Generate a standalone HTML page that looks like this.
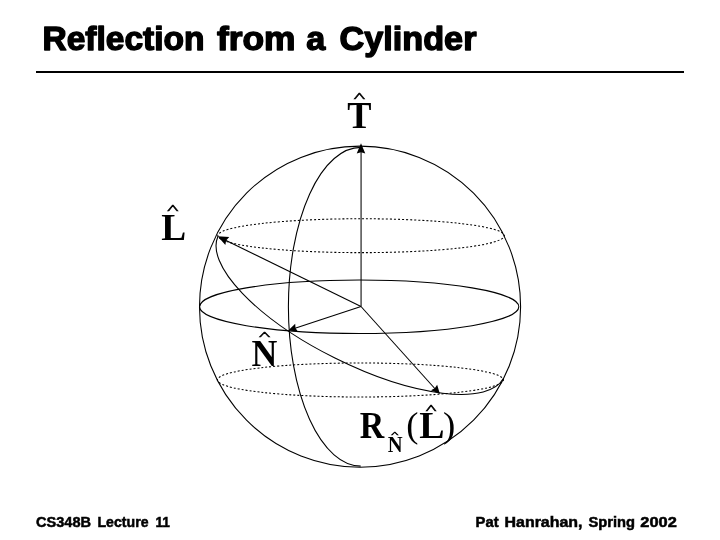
<!DOCTYPE html>
<html>
<head>
<meta charset="utf-8">
<title>Reflection from a Cylinder</title>
<style>
html,body{margin:0;padding:0;background:#fff;}
body{width:720px;height:540px;overflow:hidden;position:relative;}
svg{position:absolute;left:0;top:0;display:block;will-change:transform;}
.sans{font-family:"Liberation Sans",sans-serif;font-weight:bold;fill:#000;}
.ttl text{stroke:#000;stroke-width:1.4;stroke-linejoin:round;}
.ftr text{stroke:#000;stroke-width:0.5;}
.serifb{font-family:"Liberation Serif",serif;font-weight:bold;fill:#000;}
.serif{font-family:"Liberation Serif",serif;font-weight:normal;fill:#000;}
.hat{stroke:#000;stroke-width:0.7px;vector-effect:non-scaling-stroke;stroke-linejoin:miter;}
.ln{fill:none;stroke:#000;stroke-width:1.08;}
.dot{fill:none;stroke:#000;stroke-width:1.05;stroke-dasharray:1 1;stroke-dashoffset:0.5;}
</style>
</head>
<body>
<svg width="720" height="540" viewBox="0 0 720 540">
  <!-- title -->
  <g class="sans ttl" font-size="33">
  <text x="42.5" y="50" textLength="162" lengthAdjust="spacingAndGlyphs">Reflection</text>
  <text x="217" y="50" textLength="78.5" lengthAdjust="spacingAndGlyphs">from</text>
  <text x="306.3" y="50" textLength="19" lengthAdjust="spacingAndGlyphs">a</text>
  <text x="339.5" y="50" textLength="137" lengthAdjust="spacingAndGlyphs">Cylinder</text>
  </g>
  <rect x="36" y="71" width="648" height="2" fill="#000"/>

  <!-- sphere -->
  <circle class="ln" cx="360.05" cy="306.7" r="160.55"/>
  <ellipse class="ln" cx="359.2" cy="306.78" rx="159.6" ry="26.72"/>
  <ellipse class="dot" cx="361.1" cy="235.7" rx="143.3" ry="16.95" pathLength="292"/>
  <ellipse class="dot" cx="360.4" cy="379.98" rx="143" ry="17.02" pathLength="292"/>
  <!-- meridian -->
  <path class="ln" d="M360.9,147.4 A72.4 159.35 0 0 0 360.7,466.1"/>
  <!-- great circle through L, N, R -->
  <path class="ln" d="M218,236.2 A159.5 57.8 26.45 0 0 503.4,378.6"/>
  <!-- vectors -->
  <line class="ln" x1="361.07" y1="306.5" x2="361.07" y2="150" style="stroke-width:1.05"/>
  <line class="ln" x1="361" y1="306.5" x2="222" y2="238.4"/>
  <line class="ln" x1="361" y1="306.5" x2="292" y2="329.2"/>
  <line class="ln" x1="361" y1="306.5" x2="435.7" y2="389.5"/>
  <path d="M0.3,0 L-7.8,-3.7 L-6.8,0 L-7.8,3.7 Z" fill="#000" transform="translate(361,143.7) rotate(-90) scale(1.26,1.16)"/>
  <path d="M0.3,0 L-7.8,-3.7 L-6.8,0 L-7.8,3.7 Z" fill="#000" transform="translate(218,236.4) rotate(206.1) scale(1.33,1.2)"/>
  <path d="M0.3,0 L-7.8,-3.7 L-6.8,0 L-7.8,3.7 Z" fill="#000" transform="translate(288.5,330.3) rotate(161.8) scale(1.08,1.12)"/>
  <path d="M0.3,0 L-7.8,-3.7 L-6.8,0 L-7.8,3.7 Z" fill="#000" transform="translate(439.7,393.8) rotate(48) scale(1.08,1.12)"/>

  <!-- labels -->
  <text class="serifb" font-size="100" transform="translate(347.23,127.80) scale(0.3630,0.3818)">T</text>
  <text class="serif hat" font-size="100" transform="translate(353.81,100.98) scale(0.2399,0.1334)">^</text>
  <text class="serifb" font-size="100" transform="translate(161.16,239.80) scale(0.3734,0.3757)">L</text>
  <text class="serif hat" font-size="100" transform="translate(167.31,213.04) scale(0.2376,0.1205)">^</text>
  <text class="serifb" font-size="100" transform="translate(251.62,365.70) scale(0.3580,0.3742)">N</text>
  <text class="serif hat" font-size="100" transform="translate(259.01,338.63) scale(0.2376,0.1097)">^</text>
  <text class="serifb" font-size="100" transform="translate(359.72,438.00) scale(0.3390,0.3711)">R</text>
  <text class="serifb" font-size="100" transform="translate(387.81,451.70) scale(0.2058,0.2245)">N</text>
  <text class="serif hat" font-size="100" transform="translate(391.23,435.76) scale(0.1516,0.0688)">^</text>
  <text class="serif" font-size="100" transform="translate(406.19,436.57) scale(0.3659,0.3584)">(</text>
  <text class="serifb" font-size="100" transform="translate(419.35,438.00) scale(0.3784,0.3711)">L</text>
  <text class="serif hat" font-size="100" transform="translate(425.73,413.04) scale(0.2263,0.1312)">^</text>
  <text class="serif" font-size="100" transform="translate(443.01,436.57) scale(0.3698,0.3584)">)</text>

  <!-- footer -->
  <g class="sans ftr" font-size="14.3">
  <text x="36" y="526.6" textLength="55" lengthAdjust="spacingAndGlyphs">CS348B</text>
  <text x="97.5" y="526.6" textLength="51" lengthAdjust="spacingAndGlyphs">Lecture</text>
  <text x="155.5" y="526.6" textLength="14.5" lengthAdjust="spacingAndGlyphs">11</text>
  <text x="475.6" y="526.6" textLength="23" lengthAdjust="spacingAndGlyphs">Pat</text>
  <text x="504.5" y="526.6" textLength="78" lengthAdjust="spacingAndGlyphs">Hanrahan,</text>
  <text x="588.5" y="526.6" textLength="46.5" lengthAdjust="spacingAndGlyphs">Spring</text>
  <text x="640.3" y="526.6" textLength="36.5" lengthAdjust="spacingAndGlyphs">2002</text>
  </g>
</svg>
</body>
</html>
